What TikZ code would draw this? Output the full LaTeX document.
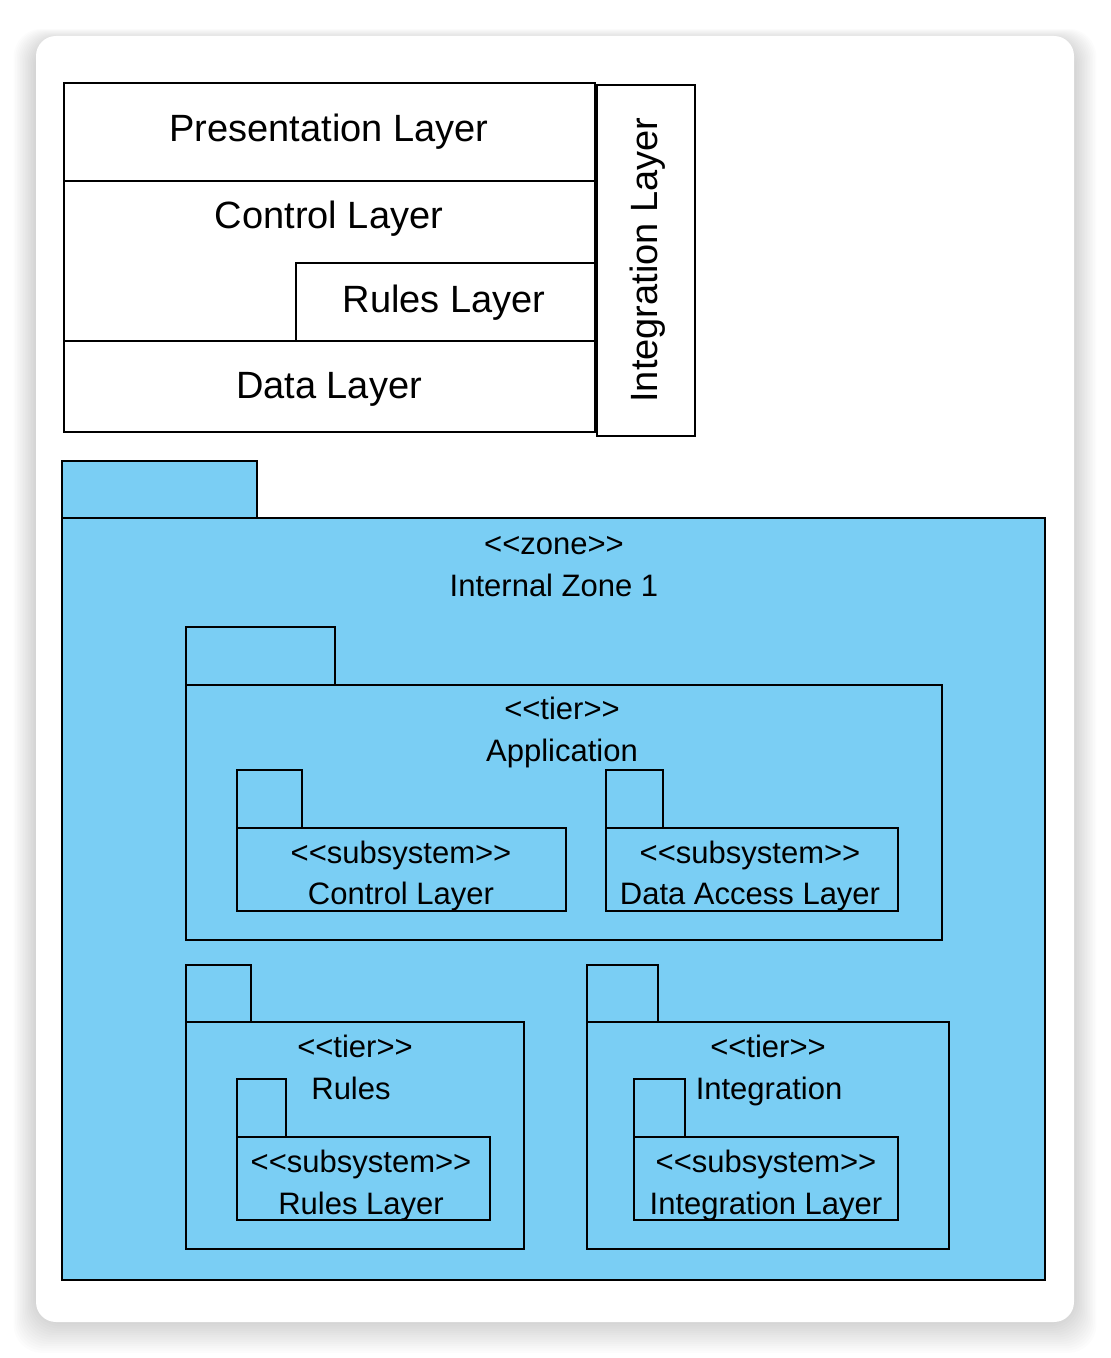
\documentclass[tikz,border=0pt]{standalone}
\usepackage{fontspec}
\setmainfont{Liberation Sans}[Ligatures=TeXOff]
\definecolor{zoneblue}{RGB}{122,206,244}
\tikzset{
  layerbox/.style={draw, line width=1.4pt, fill=white},
  pkgbox/.style={draw, line width=1.4pt, fill=zoneblue},
  bigtext/.style={font=\fontsize{19}{22}\selectfont, anchor=base, inner sep=0pt},
  smalltext/.style={font=\fontsize{15.5}{18}\selectfont, anchor=base, inner sep=0pt}
}
% UML package: left x, tab top, tab right, body top, right x, bottom y
\newcommand{\umlpackage}[6]{%
  \draw[pkgbox] (#1,#2) rectangle (#3,#4);
  \draw[pkgbox] (#1,#4) rectangle (#5,#6);
}
\begin{document}
\begin{tikzpicture}[x=0.5pt,y=-0.5pt]
\useasboundingbox (0,0) rectangle (1110,1358);
% Card with soft shadow
\foreach \i in {1,...,14}
  \fill[black, opacity=0.012, rounded corners=14] (36-1.6*\i,36-0.8*\i+4) rectangle (1074+1.6*\i,1322+2.2*\i);
\fill[white, rounded corners=10] (36,36) coordinate (card) rectangle (1074,1322);
% Layer stack
\draw[layerbox] (64,83) rectangle (595,181);
\draw[layerbox] (64,181) rectangle (595,341);
\draw[layerbox] (296,263) rectangle (595,341);
\draw[layerbox] (64,341) rectangle (595,432);
\draw[layerbox] (597,85) rectangle (695,436);
\node[bigtext] (pres) at (329,142) {Presentation Layer};
\node[bigtext] (ctrl) at (329,229) {Control Layer};
\node[bigtext] (rules) at (444,313) {Rules Layer};
\node[bigtext] (data) at (329,398) {Data Layer};
\node[bigtext, rotate=90] (integ) at (657,260) {Integration Layer};
% Zone package
\umlpackage{62}{461}{257}{518}{1045}{1280}
\node[smalltext] (zonest) at (554,554) {<<zone>>};
\node[smalltext] (zone) at (554,596) {Internal Zone 1};
% Application tier
\umlpackage{186}{627}{335}{685}{942}{940}
\node[smalltext] (appst) at (562,719) {<<tier>>};
\node[smalltext] (app) at (562,761) {Application};
\umlpackage{237}{770}{302}{828}{566}{911}
\node[smalltext] (ctrlst) at (401,863) {<<subsystem>>};
\node[smalltext] (ctrlsub) at (401,904) {Control Layer};
\umlpackage{606}{770}{663}{828}{898}{911}
\node[smalltext] (dalst) at (750,863) {<<subsystem>>};
\node[smalltext] (dalsub) at (750,904) {Data Access Layer};
% Rules tier
\umlpackage{186}{965}{251}{1022}{524}{1249}
\node[smalltext] (rulesst) at (355,1057) {<<tier>>};
\node[smalltext] (rulestier) at (351,1099) {Rules};
\umlpackage{237}{1079}{286}{1137}{490}{1220}
\node[smalltext] (rlst) at (361,1172) {<<subsystem>>};
\node[smalltext] (rlsub) at (361,1214) {Rules Layer};
% Integration tier
\umlpackage{587}{965}{658}{1022}{949}{1249}
\node[smalltext] (intst) at (768,1057) {<<tier>>};
\node[smalltext] (inttier) at (769,1099) {Integration};
\umlpackage{634}{1079}{685}{1137}{898}{1220}
\node[smalltext] (ilst) at (766,1172) {<<subsystem>>};
\node[smalltext] (ilsub) at (766,1214) {Integration Layer};
\end{tikzpicture}
\end{document}
